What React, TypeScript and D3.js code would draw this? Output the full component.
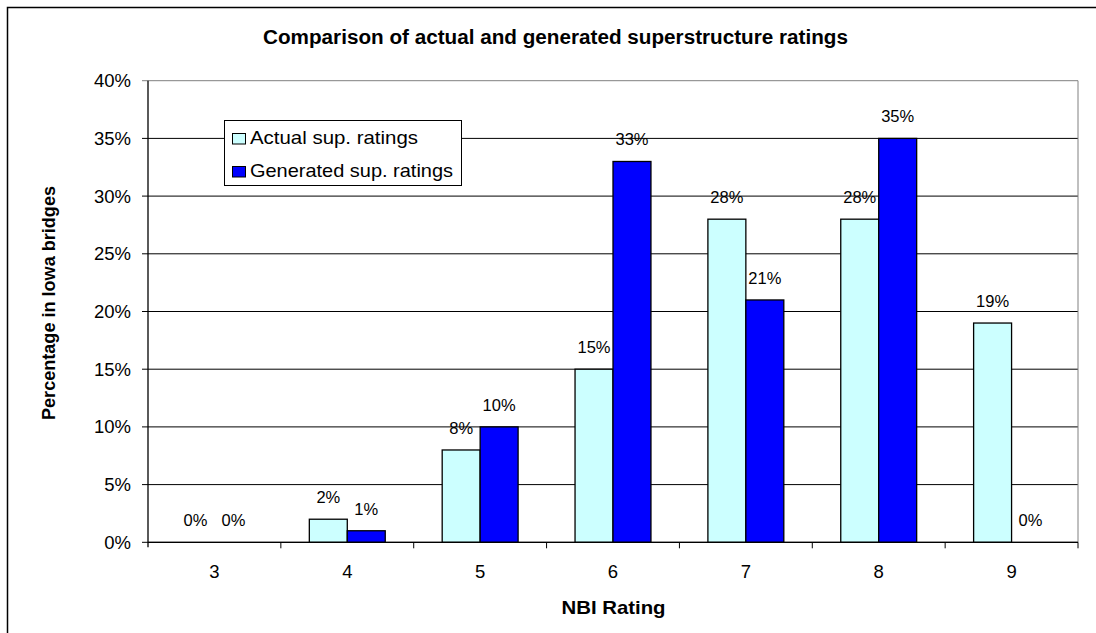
import React from "react";
import * as d3 from "d3";

const categories = ["3", "4", "5", "6", "7", "8", "9"];
const actualValues = [0, 2, 8, 15, 28, 28, 19];
const generatedValues = [0, 1, 10, 33, 21, 35, 0];
const seriesNames = ["Actual sup. ratings", "Generated sup. ratings"];
const seriesColors = ["#CCFFFF", "#0000FF"];
const yTicks = [0, 5, 10, 15, 20, 25, 30, 35, 40];

const W = 1096;
const H = 633;
const left = 148;
const right = 1078;
const top = 80.7;
const bottom = 542.3;
const FONT = "'Liberation Sans', Arial, sans-serif";
const legendWidths = [168, 203];

export default function App() {
  const x = d3.scaleBand<string>().domain(categories).range([left, right]).paddingInner(0).paddingOuter(0);
  const y = d3.scaleLinear().domain([0, 40]).range([bottom, top]);
  const bw = x.bandwidth() / 3.5;
  const series = [actualValues, generatedValues];

  return (
    <div style={{ position: "fixed", left: 0, top: 0 }}>
      <svg width={W} height={H} style={{ display: "block", background: "#fff" }}>
        <rect x={7.5} y={7.5} width={1100} height={640} fill="#fff" stroke="#000" strokeWidth={1.5} />
        <text x={263} y={44} fontFamily={FONT} fontWeight="bold" fontSize={19.5} textLength={585} lengthAdjust="spacingAndGlyphs">
          Comparison of actual and generated superstructure ratings
        </text>
        {/* gridlines */}
        {yTicks.map((t) => (
          <line key={"g" + t} x1={left - 6} x2={right} y1={y(t)} y2={y(t)} stroke={t === 40 ? "#808080" : "#000"} strokeWidth={1} />
        ))}
        <line x1={right} x2={right} y1={top} y2={bottom} stroke="#808080" />
        {yTicks.map((t) => (
          <text key={"yl" + t} x={131} y={y(t) + 6.5} textAnchor="end" fontFamily={FONT} fontSize={18.5}>
            {t + "%"}
          </text>
        ))}
        {/* bars */}
        {series.map((vals, si) =>
          vals.map((v, i) => {
            const bx = (x(categories[i]) as number) + bw * 0.75 + si * bw;
            return (
              <g key={"b" + si + "-" + i}>
                {v > 0 && (
                  <rect x={bx} y={y(v)} width={bw} height={bottom - y(v)} fill={seriesColors[si]} stroke="#000" strokeWidth={1.3} />
                )}
                <text x={bx + bw / 2} y={y(v) - 16} textAnchor="middle" fontFamily={FONT} fontSize={16.5}>
                  {v + "%"}
                </text>
              </g>
            );
          })
        )}
        {/* axes */}
        <line x1={left} x2={left} y1={top} y2={bottom + 5} stroke="#000" strokeWidth={1.3} />
        <line x1={left} x2={right} y1={bottom} y2={bottom} stroke="#000" strokeWidth={1.3} />
        {categories.map((c) => (
          <line key={"xt" + c} x1={(x(c) as number) + x.bandwidth()} x2={(x(c) as number) + x.bandwidth()} y1={bottom} y2={bottom + 6} stroke="#000" strokeWidth={1} />
        ))}
        {categories.map((c) => (
          <text key={"xl" + c} x={(x(c) as number) + x.bandwidth() / 2} y={577.5} textAnchor="middle" fontFamily={FONT} fontSize={18.5}>
            {c}
          </text>
        ))}
        <text x={561.5} y={614} fontFamily={FONT} fontWeight="bold" fontSize={19} textLength={104} lengthAdjust="spacingAndGlyphs">
          NBI Rating
        </text>
        <text transform="translate(55,420) rotate(-90)" fontFamily={FONT} fontWeight="bold" fontSize={18} textLength={234} lengthAdjust="spacingAndGlyphs">
          Percentage in Iowa bridges
        </text>
        {/* legend */}
        <rect x={224.5} y={120.5} width={237} height={65} fill="#fff" stroke="#000" strokeWidth={1} />
        {seriesNames.map((n, i) => (
          <g key={"lg" + i}>
            <rect x={232.5} y={133.5 + i * 33} width={13} height={10.5} fill={seriesColors[i]} stroke="#000" strokeWidth={1} />
            <text x={250} y={144 + i * 33} fontFamily={FONT} fontSize={18.5} textLength={legendWidths[i]} lengthAdjust="spacingAndGlyphs">
              {n}
            </text>
          </g>
        ))}
      </svg>
    </div>
  );
}
